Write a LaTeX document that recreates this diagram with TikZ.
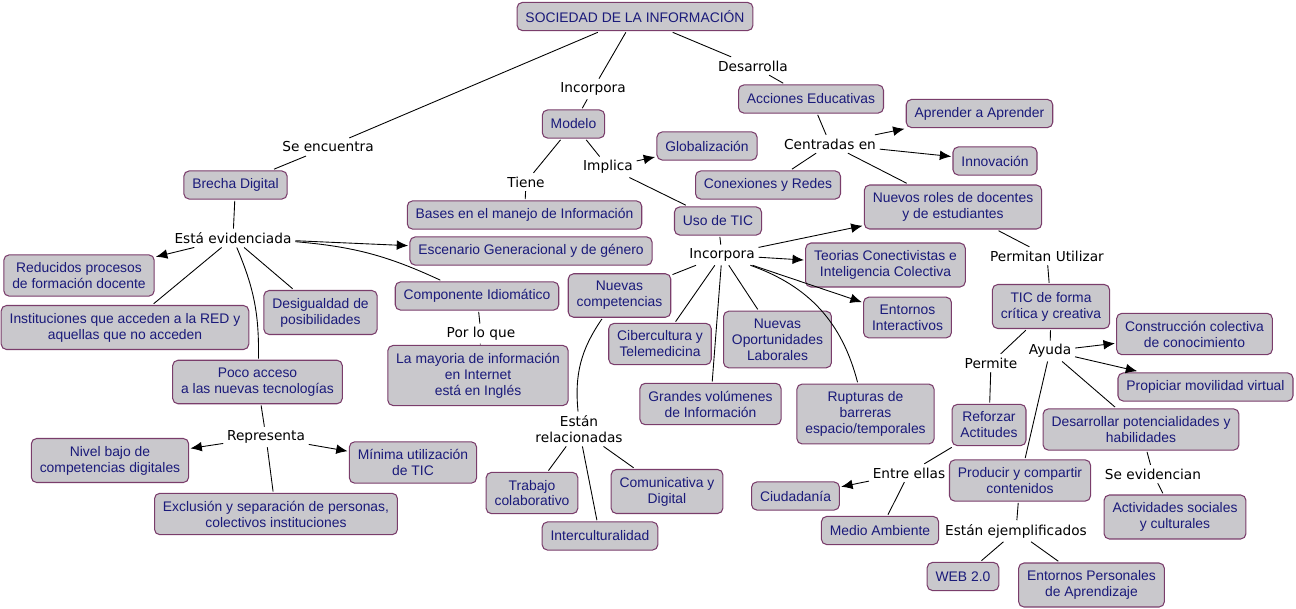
\documentclass[tikz,border=0pt]{standalone}
\usepackage{fontspec}
\setmainfont{Liberation Sans}
\newfontfamily\linkfamily{DejaVu Sans}
\usetikzlibrary{arrows.meta}
\definecolor{cmapborder}{RGB}{122,61,107}
\definecolor{cmapfill}{RGB}{201,200,204}
\definecolor{cmaptext}{RGB}{26,26,122}
\newcommand{\boxfont}{\fontsize{7.9}{9.07}\selectfont}
\newcommand{\linkfont}{\linkfamily\fontsize{7.8}{9.07}\selectfont}
\tikzset{
  concept/.style={draw=cmapborder,fill=cmapfill,text=cmaptext,rounded corners=3pt,line width=0.6pt,
    align=center,inner xsep=4.8pt,inner ysep=4.3pt,minimum height=16pt,outer sep=1pt,font=\boxfont},
  linkword/.style={inner sep=2pt,align=center,font=\linkfont},
  link/.style={line width=0.5pt},
  arrowlink/.style={link,-{Latex[length=6.5pt,width=5.5pt]}}
}
\begin{document}
\begin{tikzpicture}[x=0.02cm,y=-0.02cm]
\useasboundingbox (0,0) rectangle (1296,609);

\node[concept] (soc) at (635,16.5) {SOCIEDAD DE LA INFORMACIÓN};
\node[concept] (brecha) at (235.5,185) {Brecha Digital};
\node[concept] (modelo) at (573.5,124) {Modelo};
\node[concept] (acciones) at (811,99) {Acciones Educativas};
\node[concept] (aprender) at (979.5,113.5) {Aprender a Aprender};
\node[concept] (innovacion) at (995,161) {Innovación};
\node[concept] (globaliz) at (707,146) {Globalización};
\node[concept] (conexiones) at (768,185) {Conexiones y Redes};
\node[concept] (roles) at (953,207) {Nuevos roles de docentes\\y de estudiantes};
\node[concept] (bases) at (524.5,215) {Bases en el manejo de Información};
\node[concept] (usotic) at (718,221) {Uso de TIC};
\node[concept] (escenario) at (531,251) {Escenario Generacional y de género};
\node[concept] (reducidos) at (79,275.5) {Reducidos procesos\\de formación docente};
\node[concept] (teorias) at (885.5,265) {Teorias Conectivistas e\\Inteligencia Colectiva};
\node[concept] (competencias) at (619.5,295.5) {Nuevas\\competencias};
\node[concept] (idiomatico) at (477,296) {Componente Idiomático};
\node[concept] (desigualdad) at (320.5,312.5) {Desigualdad de\\posibilidades};
\node[concept] (instituciones) at (125,327.5) {Instituciones que acceden a la RED y\\aquellas que no acceden};
\node[concept] (interactivos) at (907.5,317.5) {Entornos\\Interactivos};
\node[concept] (ticcritica) at (1051,306.5) {TIC de forma\\crítica y creativa};
\node[concept] (cibercultura) at (660,344) {Cibercultura y\\Telemedicina};
\node[concept] (oportunidades) at (777.5,339.5) {Nuevas\\Oportunidades\\Laborales};
\node[concept] (construccion) at (1194.5,334) {Construcción colectiva\\de conocimiento};
\node[concept] (poco) at (257.5,382) {Poco acceso\\a las nuevas tecnologías};
\node[concept] (mayoria) at (478,375.5) {La mayoria de información\\en Internet\\está en Inglés};
\node[concept] (propiciar) at (1205.5,387) {Propiciar movilidad virtual};
\node[concept] (grandes) at (710.5,404) {Grandes volúmenes\\de Información};
\node[concept] (rupturas) at (865.5,414) {Rupturas de\\barreras\\espacio/temporales};
\node[concept] (reforzar) at (989,425) {Reforzar\\Actitudes};
\node[concept] (desarrollar) at (1141,429.5) {Desarrollar potencialidades y\\habilidades};
\node[concept] (nivel) at (110,460.5) {Nivel bajo de\\competencias digitales};
\node[concept] (minima) at (413,462.5) {Mínima utilización\\de TIC};
\node[concept] (exclusion) at (276,514) {Exclusión y separación de personas,\\colectivos instituciones};
\node[concept] (trabajo) at (532,493) {Trabajo\\colaborativo};
\node[concept] (comunicativa) at (667,491.5) {Comunicativa y\\Digital};
\node[concept] (intercult) at (600,536) {Interculturalidad};
\node[concept] (ciudadania) at (795.5,496) {Ciudadanía};
\node[concept] (medio) at (880,530.5) {Medio Ambiente};
\node[concept] (producir) at (1020,480.5) {Producir y compartir\\contenidos};
\node[concept] (actividades) at (1175,517) {Actividades sociales\\y culturales};
\node[concept] (web) at (963,576.5) {WEB 2.0};
\node[concept] (ple) at (1091.5,585) {Entornos Personales\\de Aprendizaje};

\node[linkword] (seencuentra) at (328,147) {Se encuentra};
\node[linkword] (incorpora) at (593,89) {Incorpora};
\node[linkword] (desarrolla) at (753,66) {Desarrolla};
\node[linkword] (centradas) at (830,144) {Centradas en};
\node[linkword] (tiene) at (526,182) {Tiene};
\node[linkword] (implica) at (608,167) {Implica};
\node[linkword] (evidenciada) at (233,238) {Está evidenciada};
\node[linkword] (incorporatic) at (722,255) {Incorpora};
\node[linkword] (permitan) at (1047,256) {Permitan Utilizar};
\node[linkword] (porloque) at (481,334) {Por lo que};
\node[linkword] (ayuda) at (1050,351) {Ayuda};
\node[linkword] (permite) at (991,363) {Permite};
\node[linkword] (representa) at (266,437) {Representa};
\node[linkword] (relacionadas) at (579,429) {Están\\relacionadas};
\node[linkword] (seevidencian) at (1153,474) {Se evidencian};
\node[linkword] (entreellas) at (909,473) {Entre ellas};
\node[linkword] (ejemplificados) at (1016,531) {Están ejemplificados};

\draw[link] (soc) -- (seencuentra) -- (brecha);
\draw[link] (soc) -- (incorpora) -- (modelo);
\draw[link] (soc) -- (desarrolla) -- (acciones);
\draw[link] (acciones) -- (centradas);
\draw[arrowlink] (centradas) -- (aprender);
\draw[arrowlink] (centradas) -- (innovacion);
\draw[link] (centradas) -- (conexiones);
\draw[link] (centradas) -- (roles);
\draw[link] (modelo) -- (tiene) -- (bases);
\draw[link] (modelo) -- (implica);
\draw[arrowlink] (implica) -- (globaliz);
\draw[link] (implica) -- (usotic);
\draw[link] (usotic) -- (incorporatic);
\draw[arrowlink] (incorporatic) -- (roles);
\draw[arrowlink] (incorporatic) -- (teorias);
\draw[arrowlink] (incorporatic) -- (interactivos);
\draw[link] (incorporatic) to[bend left=28] (rupturas);
\draw[link] (incorporatic) -- (oportunidades);
\draw[link] (incorporatic) -- (grandes);
\draw[link] (incorporatic) -- (cibercultura);
\draw[link] (incorporatic) -- (competencias);
\draw[link] (brecha) -- (evidenciada);
\draw[arrowlink] (evidenciada) -- (reducidos);
\draw[link] (evidenciada) -- (instituciones);
\draw[link] (evidenciada) to[bend left=12] (poco);
\draw[link] (evidenciada) -- (desigualdad);
\draw[arrowlink] (evidenciada) -- (escenario);
\draw[link] (evidenciada) to[bend left=10] (idiomatico);
\draw[link] (idiomatico) -- (porloque) -- (mayoria);
\draw[link] (poco) -- (representa);
\draw[arrowlink] (representa) -- (nivel);
\draw[arrowlink] (representa) -- (minima);
\draw[link] (representa) -- (exclusion);
\draw[link] (competencias) to[bend right=20] (relacionadas);
\draw[link] (relacionadas) -- (trabajo);
\draw[link] (relacionadas) -- (intercult);
\draw[link] (relacionadas) -- (comunicativa);
\draw[link] (roles) -- (permitan) -- (ticcritica);
\draw[link] (ticcritica) -- (ayuda);
\draw[link] (ticcritica) -- (permite) -- (reforzar);
\draw[arrowlink] (ayuda) -- (construccion);
\draw[arrowlink] (ayuda) -- (propiciar);
\draw[link] (ayuda) -- (desarrollar);
\draw[link] (ayuda) -- (producir);
\draw[link] (reforzar) -- (entreellas);
\draw[arrowlink] (entreellas) -- (ciudadania);
\draw[link] (entreellas) -- (medio);
\draw[link] (desarrollar) -- (seevidencian) -- (actividades);
\draw[link] (producir) -- (ejemplificados);
\draw[link] (ejemplificados) -- (web);
\draw[link] (ejemplificados) -- (ple);
\end{tikzpicture}
\end{document}
